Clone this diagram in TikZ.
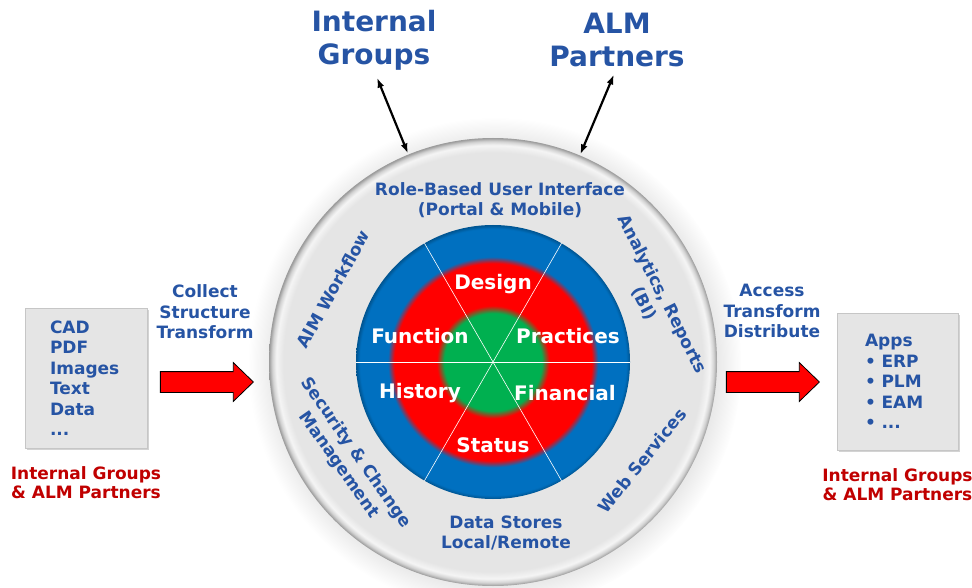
\documentclass[tikz,border=0pt]{standalone}
\usepackage{fontspec}
\setmainfont{DejaVu Sans}
\usepackage{tikz}
\usetikzlibrary{arrows.meta,positioning,shapes.arrows,shadows}
\definecolor{txtblue}{RGB}{38,84,164}
\definecolor{txtred}{RGB}{192,0,0}
\definecolor{ringblue}{RGB}{0,112,192}
\definecolor{ringred}{RGB}{255,0,0}
\definecolor{ringgreen}{RGB}{0,176,80}
\definecolor{platter}{RGB}{229,229,229}
\definecolor{boxgray}{RGB}{229,229,229}

% radial fills: 25bp is the outer edge of the disc
\pgfdeclareradialshading{target}{\pgfpoint{0bp}{0bp}}{%
  color(0bp)=(ringgreen); color(8.9bp)=(ringgreen); color(10.3bp)=(ringred);
  color(18bp)=(ringred); color(19.2bp)=(ringblue); color(24.3bp)=(ringblue);
  color(25bp)=(ringblue!75!black); color(50bp)=(ringblue!75!black)}
\pgfdeclareradialshading{platter}{\pgfpoint{0bp}{0bp}}{%
  color(0bp)=(platter); color(23.4bp)=(platter); color(24.2bp)=(white!60!platter);
  color(24.65bp)=(platter!80!gray); color(25bp)=(gray!80); color(50bp)=(gray!80)}

\begin{document}
\begin{tikzpicture}[
  x=1pt, y=-1pt,
  every node/.style={font=\bfseries},
  bluetxt/.style={text=txtblue, align=center, inner sep=0pt, font=\bfseries\fontsize{17}{20.5}\selectfont},
  redtxt/.style={text=txtred, align=center, inner sep=0pt, font=\bfseries\fontsize{17}{19.5}\selectfont},
  toptxt/.style={bluetxt, font=\bfseries\fontsize{28}{33}\selectfont},
  sector/.style={text=white, inner sep=0pt, font=\bfseries\fontsize{20}{24}\selectfont},
  srcbox/.style={fill=boxgray, draw=gray!45, align=left, text=txtblue,
    font=\bfseries\fontsize{17}{20.5}\selectfont,
    drop shadow={shadow xshift=1.5pt, shadow yshift=-1.5pt, opacity=0.35}},
  flow/.style={single arrow, draw=black, line width=0.8pt, fill=red,
    inner xsep=0pt, inner ysep=10pt,
    minimum height=93pt, minimum width=38pt, single arrow head extend=9pt,
    single arrow tip angle=88, single arrow head indent=0pt},
  link/.style={{Latex[length=10pt,width=7pt]}-{Latex[length=10pt,width=7pt]}, line width=2.2pt},
  spoke/.style={white, line width=0.6pt}
]
\useasboundingbox (0,0) rectangle (972,588);

% central platter and target
\coordinate (hub) at (493,362);
\node[circle, minimum size=448pt, inner sep=0pt, shade, shading=platter,
  circular drop shadow={shadow xshift=2pt, shadow yshift=-2pt, opacity=0.25}] (platter) at (hub) {};
\node[circle, minimum size=274pt, inner sep=0pt, shade, shading=target] (target) at (hub) {};
\foreach \a in {0,60,120}
  \draw[spoke] (hub) ++(\a:137) -- ++(\a+180:274);

\node[sector] (design) at (493,284) {Design};
\node[sector] (function) at (420,336) {Function};
\node[sector] (practices) at (568,336) {Practices};
\node[sector] (history) at (420,393) {History};
\node[sector] (financial) at (565,393) {Financial};
\node[sector] (status) at (493,445) {Status};

% services around the rim
\node[bluetxt] (ui) at (500,200) {Role-Based User Interface\\(Portal \& Mobile)};
\node[bluetxt] (stores) at (506,533) {Data Stores\\Local/Remote};
\node[bluetxt, rotate=61] (workflow) at (333,289) {AIM Workflow};
\node[bluetxt, rotate=-63] (analytics) at (653,299) {Analytics, Reports\\(BI)};
\node[bluetxt, rotate=-55] (security) at (347,459) {Security \& Change\\Management};
\node[bluetxt, rotate=51] (websvc) at (642,461) {Web Services};

% parties on top
\node[toptxt] (intgroups) at (374,40) {Internal\\Groups};
\node[toptxt] (almpartners) at (617,40) {ALM\\Partners};
\draw[link, shorten <=8pt, shorten >=1pt] (intgroups.south) -- (platter);
\draw[link, shorten <=8pt, shorten >=1pt] (almpartners.south) -- (platter);

% sources on the left
\node[srcbox, minimum width=122pt, minimum height=140pt, text width=72pt] (srcbox) at (86,378)
  {CAD\\PDF\\Images\\Text\\Data\\...};
\node[redtxt, below=18pt of srcbox] (srcgroups) {Internal Groups\\\& ALM Partners};
\node[flow] (collect) at (201.5,382) {};
\node[bluetxt] (collecttxt) at (205,312) {Collect\\Structure\\Transform};

% consumers on the right
\node[srcbox, minimum width=121pt, minimum height=137pt, text width=65pt] (appbox) at (897.5,381.5)
  {Apps\\• ERP\\• PLM\\• EAM\\• ...};
\node[redtxt, below=18pt of appbox] (appgroups) {Internal Groups\\\& ALM Partners};
\node[flow] (access) at (767.5,382) {};
\node[bluetxt] (accesstxt) at (772,311) {Access\\Transform\\Distribute};
\end{tikzpicture}
\end{document}
